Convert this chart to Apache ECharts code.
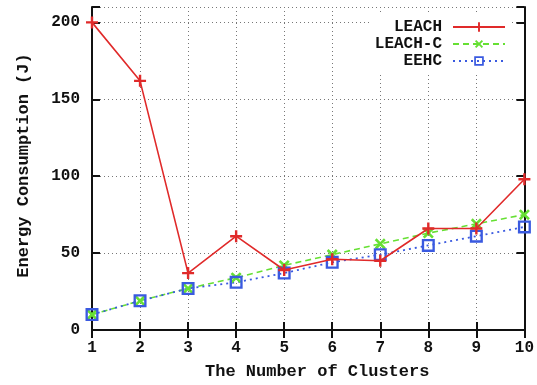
<!DOCTYPE html>
<html>
<head>
<meta charset="utf-8">
<script src="https://cdn.jsdelivr.net/npm/echarts@6/dist/echarts.min.js"></script>
<style>
  html, body { margin: 0; padding: 0; background: #fff; }
  #chart { width: 537px; height: 385px; }
</style>
</head>
<body>
<div id="chart"></div>
<script>
// Number of clusters on the x axis
const clusters = ['1', '2', '3', '4', '5', '6', '7', '8', '9', '10'];

// Energy consumption (J) per protocol
const leach  = [200, 162, 37, 61, 39, 46, 45, 66, 66, 98];
const leachC = [10, 19, 27, 34, 42, 49, 56, 63, 69, 75];
const eehc   = [10, 19, 27, 31, 37, 44, 49, 55, 61, 67];

const yTicks = [0, 50, 100, 150, 200];

const FONT = '"Liberation Mono", "DejaVu Sans Mono", monospace';

// marker shapes
const plusPath = 'path://M4,0h2v4h4v2h-4v4h-2v-4h-4v-2h4z';
const boxPath = 'path://M0,0H10V10H0Z M1.8,1.8V8.2H8.2V1.8Z';

const frame = { show: true, lineStyle: { color: '#111', width: 2 } };
const tick = { show: true, inside: true, length: 8, lineStyle: { color: '#111', width: 2 } };
const grid = { show: true, lineStyle: { color: '#777', width: 1, type: [1, 3] } };
const labelStyle = { color: '#111', fontFamily: FONT, fontWeight: 'bold', fontSize: 16 };
const nameStyle = { color: '#111', fontFamily: FONT, fontWeight: 'bold', fontSize: 17 };

const chart = echarts.init(document.getElementById('chart'), null, { renderer: 'canvas' });

chart.setOption({
  animation: false,
  backgroundColor: '#fff',
  grid: { left: 92, right: 11, top: 7, bottom: 55, containLabel: false },
  legend: {
    orient: 'vertical',
    right: 27,
    top: 15,
    align: 'right',
    itemWidth: 52,
    itemHeight: 12,
    itemGap: 1,
    padding: [4, 4, 6, 4],
    backgroundColor: '#fff',
    textStyle: { color: '#111', fontFamily: FONT, fontWeight: 'bold', fontSize: 16, padding: [0, 6, 0, 0] },
    data: ['LEACH', 'LEACH-C', 'EEHC']
  },
  xAxis: [
    {
      type: 'category',
      data: clusters,
      boundaryGap: false,
      position: 'bottom',
      name: 'The Number of Clusters',
      nameLocation: 'middle',
      nameGap: 33,
      nameTextStyle: Object.assign({}, nameStyle, { padding: [0, 0, 0, 18] }),
      axisLine: frame,
      axisTick: tick,
      axisLabel: Object.assign({ margin: 10 }, labelStyle),
      splitLine: grid
    },
    {
      type: 'category',
      data: clusters,
      boundaryGap: false,
      position: 'top',
      axisLine: frame,
      axisTick: tick,
      axisLabel: { show: false },
      splitLine: { show: false }
    }
  ],
  yAxis: [
    {
      type: 'value',
      min: 0,
      max: 210,
      interval: 50,
      position: 'left',
      name: 'Energy Consumption (J)',
      nameLocation: 'middle',
      nameGap: 60,
      nameTextStyle: Object.assign({}, nameStyle, { padding: [0, 0, 0, 6] }),
      axisLine: frame,
      axisTick: tick,
      axisLabel: Object.assign({
        margin: 12,
        formatter: v => (yTicks.indexOf(v) >= 0 ? String(v) : '')
      }, labelStyle),
      splitLine: grid
    },
    {
      type: 'value',
      min: 0,
      max: 210,
      interval: 50,
      position: 'right',
      axisLine: frame,
      axisTick: tick,
      axisLabel: { show: false },
      splitLine: { show: false }
    }
  ],
  series: [
    {
      name: 'LEACH',
      type: 'line',
      data: leach,
      symbol: plusPath,
      symbolSize: 12,
      showAllSymbol: true,
      z: 4,
      lineStyle: { color: '#e02a2a', width: 1.6, type: 'solid' },
      itemStyle: { color: '#e02a2a' }
    },
    {
      name: 'LEACH-C',
      type: 'line',
      data: leachC,
      symbol: plusPath,
      symbolRotate: 45,
      symbolSize: 13,
      showAllSymbol: true,
      z: 3,
      lineStyle: { color: '#66e033', width: 1.6, type: [6, 4] },
      itemStyle: { color: '#66e033' }
    },
    {
      name: 'EEHC',
      type: 'line',
      data: eehc,
      symbol: boxPath,
      symbolSize: 13,
      showAllSymbol: true,
      z: 3,
      lineStyle: { color: '#3a5ae0', width: 1.8, type: [2, 4] },
      itemStyle: { color: '#3a5ae0' }
    }
  ]
});
</script>
</body>
</html>
